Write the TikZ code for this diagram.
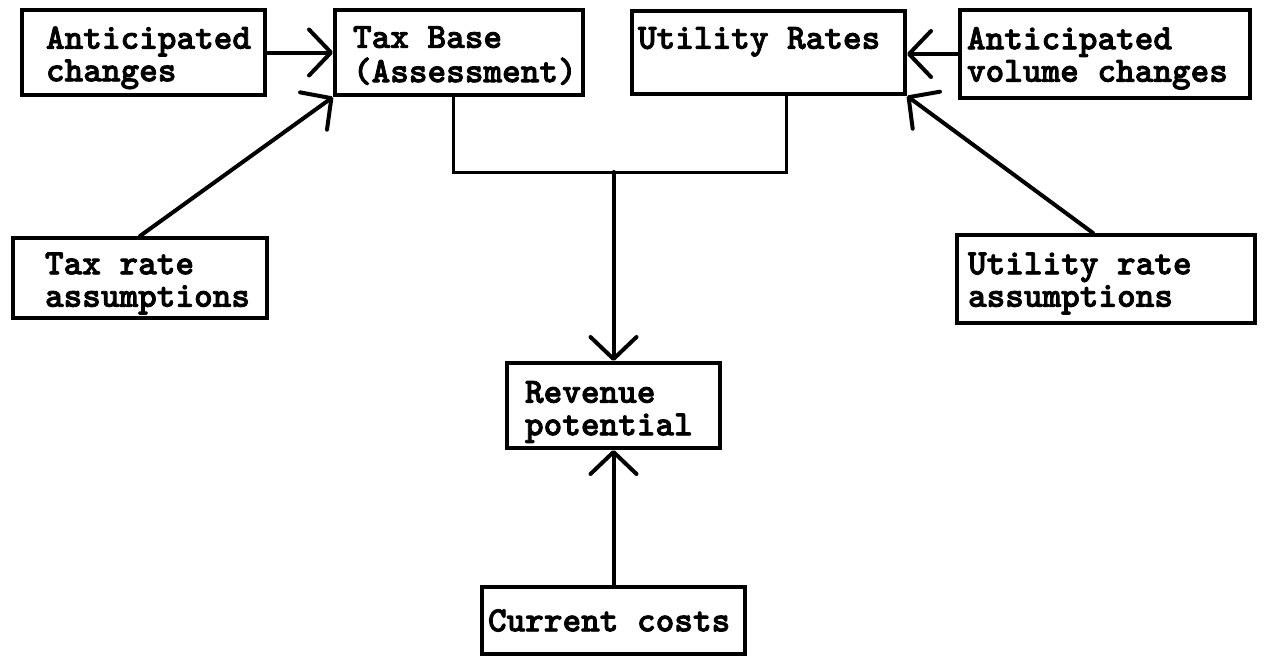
\documentclass[tikz,border=0pt]{standalone}
\usepackage{fontspec}
\newfontfamily\tw{lmmonolt10-bold.otf}[FakeBold=2.2]
\newcommand\lowertext[2]{\raisebox{-#1}[\height][\depth]{#2}}
\usetikzlibrary{arrows.meta}
\tikzset{
  box/.style={draw, line width=4pt, inner sep=0pt,
    font=\tw\fontsize{35.5}{32.5}\selectfont},
  arr/.style={line width=4pt, line cap=round, -{Straight Barb[length=22pt, width=46pt, round]}},
  link/.style={line width=3pt}
}
\begin{document}
\begin{tikzpicture}[x=1pt, y=-1pt]
\useasboundingbox (0,0) rectangle (1264,656);
\node[box, minimum height=85pt] (ac) at (143.5,52.5) {\makebox[243pt][l]{\hspace*{24pt}\lowertext{6pt}{\begin{tabular}{@{}l@{}}Anticipated\\changes\end{tabular}}}};
\node[box, minimum height=85pt] (tb) at (459,52.5) {\makebox[248pt][l]{\hspace*{18pt}\lowertext{6pt}{\begin{tabular}{@{}l@{}}Tax Base\\(Assessment)\end{tabular}}}};
\node[box, minimum height=83pt] (ur) at (768.5,52.5) {\makebox[273pt][l]{\hspace*{6pt}\lowertext{6pt}{\begin{tabular}{@{}l@{}}Utility Rates\\\mbox{}\end{tabular}}}};
\node[box, minimum height=88pt] (vol) at (1105,54) {\makebox[290pt][l]{\hspace*{7pt}\lowertext{5pt}{\begin{tabular}{@{}l@{}}Anticipated\\volume changes\end{tabular}}}};
\node[box, minimum height=80pt] (trate) at (140,278) {\makebox[254pt][l]{\hspace*{32pt}\lowertext{6pt}{\begin{tabular}{@{}l@{}}Tax rate\\assumptions\end{tabular}}}};
\node[box, minimum height=88pt] (urate) at (1106,279) {\makebox[298pt][l]{\hspace*{11pt}\lowertext{5pt}{\begin{tabular}{@{}l@{}}Utility rate\\assumptions\end{tabular}}}};
\node[box, minimum height=85pt] (rev) at (613.5,405.5) {\makebox[213pt][l]{\hspace*{18pt}\lowertext{7pt}{\begin{tabular}{@{}l@{}}Revenue\\potential\end{tabular}}}};
\node[box, minimum height=67pt] (cc) at (613.5,620.5) {\makebox[263pt][l]{\hspace*{6pt}Current costs}};
\coordinate (j) at (613.5,172);
\draw[arr] (ac.east) -- (ac.east -| tb.west);
\draw[arr] (trate.north) -- (tb.south west);
\draw[arr] (vol.west) -- (vol.west -| ur.east);
\draw[arr] ([xshift=-13pt]urate.north) -- (ur.south east);
\draw[link] ([xshift=-6pt]tb.south) |- (j) -| ([xshift=18pt]ur.south);
\draw[arr] (j) -- (rev.north);
\draw[arr] (cc.north) -- (rev.south);
\end{tikzpicture}
\end{document}
